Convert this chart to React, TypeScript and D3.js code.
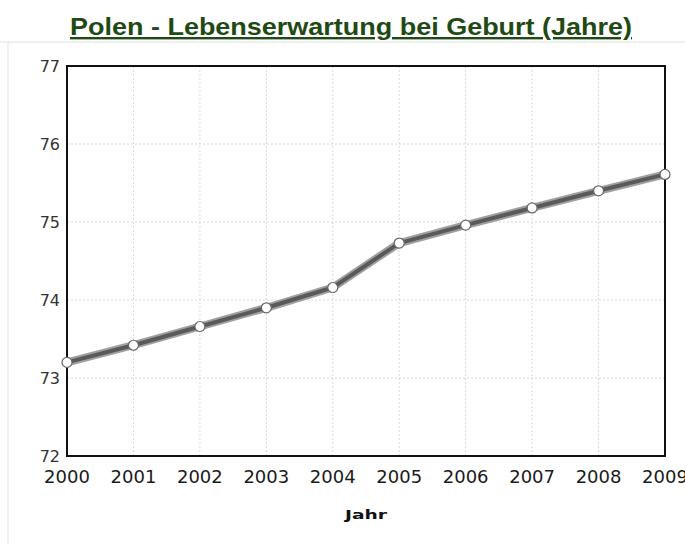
import React, { useEffect, useRef } from 'react';
import * as d3 from 'd3';

const years = [2000, 2001, 2002, 2003, 2004, 2005, 2006, 2007, 2008, 2009];
const lifeExpectancy = [73.2, 73.42, 73.66, 73.9, 74.16, 74.73, 74.96, 75.18, 75.4, 75.61];
const yTicks = [72, 73, 74, 75, 76, 77];

export default function App() {
  const svgRef = useRef<SVGSVGElement>(null);

  useEffect(() => {
    if (!svgRef.current) return;
    const svg = d3.select(svgRef.current);
    svg.selectAll('*').remove();

    const W = 685;
    const H = 544;
    const margin = { top: 66, left: 67 };
    const width = 665 - margin.left;
    const height = 456 - margin.top;

    svg.attr('width', W).attr('height', H);

    // page frame (faint)
    svg.append('line').attr('x1', 0).attr('x2', W).attr('y1', 42).attr('y2', 42)
      .attr('stroke', '#e2e2e2').attr('stroke-width', 1);
    svg.append('line').attr('x1', 8).attr('x2', 8).attr('y1', 42).attr('y2', H)
      .attr('stroke', '#e2e2e2').attr('stroke-width', 1);

    // Title
    svg.append('text')
      .attr('x', 70)
      .attr('y', 35)
      .attr('textLength', 562)
      .attr('lengthAdjust', 'spacingAndGlyphs')
      .style('font-family', '"Liberation Sans", Arial, sans-serif')
      .style('font-size', '24px')
      .style('font-weight', 'bold')
      .style('fill', '#1f4a14')
      .style('text-decoration', 'underline')
      .text('Polen - Lebenserwartung bei Geburt (Jahre)');

    const g = svg.append('g').attr('transform', `translate(${margin.left},${margin.top})`);

    const xScale = d3.scaleLinear().domain([2000, 2009]).range([0, width]);
    const yScale = d3.scaleLinear().domain([72, 77]).range([height, 0]);

    // Grid lines
    g.append('g')
      .selectAll('line')
      .data(years)
      .enter()
      .append('line')
      .attr('x1', (d) => xScale(d))
      .attr('x2', (d) => xScale(d))
      .attr('y1', 0)
      .attr('y2', height)
      .attr('stroke', '#d8d8d8')
      .attr('stroke-dasharray', '2,2');

    g.append('g')
      .selectAll('line')
      .data(yTicks)
      .enter()
      .append('line')
      .attr('x1', 0)
      .attr('x2', width)
      .attr('y1', (d) => yScale(d))
      .attr('y2', (d) => yScale(d))
      .attr('stroke', '#d8d8d8')
      .attr('stroke-dasharray', '2,2');

    // Plot frame
    g.append('rect')
      .attr('x', 0)
      .attr('y', 0)
      .attr('width', width)
      .attr('height', height)
      .attr('fill', 'none')
      .attr('stroke', '#111')
      .attr('stroke-width', 2);

    // Line
    const line = d3
      .line<number>()
      .x((_, i) => xScale(years[i]))
      .y((d) => yScale(d));

    g.append('path')
      .datum(lifeExpectancy)
      .attr('d', line)
      .attr('fill', 'none')
      .attr('stroke', '#a0a0a0')
      .attr('stroke-width', 8)
      .attr('stroke-linejoin', 'round');

    g.append('path')
      .datum(lifeExpectancy)
      .attr('d', line)
      .attr('fill', 'none')
      .attr('stroke', '#5a5a5a')
      .attr('stroke-width', 4)
      .attr('stroke-linejoin', 'round');

    // Markers
    g.selectAll('.pt')
      .data(lifeExpectancy)
      .enter()
      .append('circle')
      .attr('class', 'pt')
      .attr('cx', (_, i) => xScale(years[i]))
      .attr('cy', (d) => yScale(d))
      .attr('r', 5)
      .attr('fill', '#fff')
      .attr('stroke', '#666')
      .attr('stroke-width', 1.2);

    // Y tick labels
    g.append('g')
      .selectAll('text')
      .data(yTicks)
      .enter()
      .append('text')
      .attr('x', -7)
      .attr('y', (d) => yScale(d) + 6)
      .attr('text-anchor', 'end')
      .style('font-family', '"DejaVu Sans", Verdana, sans-serif')
      .style('font-size', '16px')
      .style('fill', '#333')
      .text((d) => d);

    // X tick labels
    g.append('g')
      .selectAll('text')
      .data(years)
      .enter()
      .append('text')
      .attr('x', (d) => xScale(d))
      .attr('y', height + 27)
      .attr('text-anchor', 'middle')
      .style('font-family', '"DejaVu Sans", Verdana, sans-serif')
      .style('font-size', '18px')
      .style('fill', '#1a1a1a')
      .text((d) => d);

    // X-axis label
    g.append('text')
      .attr('x', 345 - margin.left)
      .attr('y', 519 - margin.top)
      .attr('textLength', 42)
      .attr('lengthAdjust', 'spacingAndGlyphs')
      .style('font-family', '"DejaVu Sans", Verdana, sans-serif')
      .style('font-size', '12px')
      .style('font-weight', 'bold')
      .style('fill', '#111')
      .text('Jahr');
  }, []);

  return (
    <div style={{ position: 'absolute', left: 0, top: 0, background: '#fff' }}>
      <svg ref={svgRef} style={{ display: 'block' }}></svg>
    </div>
  );
}
